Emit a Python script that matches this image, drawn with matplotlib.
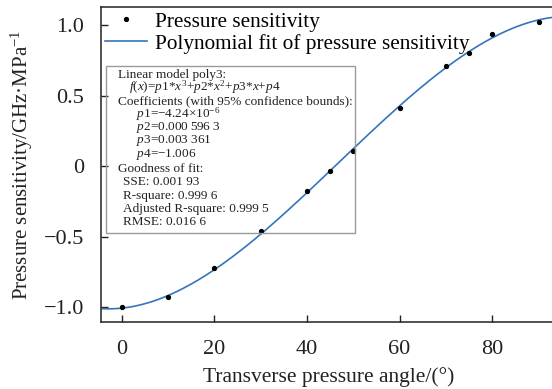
import matplotlib; matplotlib.use("Agg")
import matplotlib.pyplot as plt
from matplotlib.patches import Rectangle
import numpy as np

plt.rcParams['font.family'] = ['Liberation Serif', 'DejaVu Serif']
plt.rcParams['mathtext.fontset'] = 'custom'
plt.rcParams['mathtext.rm'] = 'Liberation Serif'
plt.rcParams['mathtext.it'] = 'Liberation Serif:italic'
plt.rcParams['axes.unicode_minus'] = True

# measured pressure sensitivity
angle = [0, 10, 20, 30, 40, 45, 50, 60, 70, 75, 80, 90]
sens = [-1.00, -0.924, -0.723, -0.459, -0.178, -0.034, 0.110, 0.412, 0.710, 0.80, 0.934, 1.02]
# cubic fit coefficients quoted in the chart
coef = [-4.24e-6, 0.0005963, 0.003361, -1.006]

W, H = 552, 389
fig = plt.figure(figsize=(W/100, H/100), dpi=100)
ax = fig.add_axes([100.7/W, 1-322/H, (W-100.7)/W + 0.01, (322-7)/H])

xf = np.linspace(-5, 95, 300)
ax.plot(xf, np.polyval(coef, xf), color='#3574bd', lw=1.2, label='Polynomial fit of pressure sensitivity', zorder=2)
ax.plot(angle, sens, 'o', color='black', ms=2.8, label='Pressure sensitivity', zorder=3)

ax.set_xlim(-4.5, 94.1)
ax.set_ylim(-1.104, 1.127)
ax.set_xticks([0, 20, 40, 60, 80])
ax.set_yticks([-1.0, -0.5, 0, 0.5, 1.0])
ax.set_yticklabels(['\u22121.0', '\u22120.5', '0', '0.5', '1.0'])
ax.tick_params(direction='in', length=5, width=1, labelsize=16, colors='#222222')
ax.tick_params(axis='y', pad=12)
ax.tick_params(axis='x', pad=13)
for s in ['left', 'bottom', 'top']:
    ax.spines[s].set_color('#222222'); ax.spines[s].set_linewidth(1.1)
ax.spines['right'].set_visible(False)
ax.set_xlabel('Transverse pressure angle/(°)', fontsize=15.5, color='#222222', labelpad=6)
ax.set_ylabel('Pressure sensitivity/GHz·MPa$^{\\mathregular{-1}}$', fontsize=15, color='#222222', labelpad=6)

h, l = ax.get_legend_handles_labels()
ax.legend([h[1], h[0]], [l[1], l[0]], loc='upper left', bbox_to_anchor=(0.01, 0.985),
          frameon=False, fontsize=15.3, handlelength=1.95, handletextpad=0.4,
          labelspacing=0.1, borderaxespad=0, borderpad=0)

def px(x, y):
    return (x / W, 1 - y / H)

x0, y0 = px(106.3, 233)
x1, y1 = px(355, 65.7)
fig.patches.append(Rectangle((x0, y0), x1 - x0, y1 - y0, transform=fig.transFigure,
                             fill=False, ec='#9a9a9a', lw=1.0, zorder=5))

lines = [
    (118, 75, 'Linear model poly3:'),
    (129, 87, r'$f$($x$)=$p$1*$x^3$+$p$2*$x^2$+$p$3*$x$+$p$4'),
    (118, 101.5, 'Coefficients (with 95% confidence bounds):'),
    (136.5, 114, r'$p$1=−4.24×10$^{-6}$'),
    (136.5, 127.5, r'$p$2=0.000 596 3'),
    (136.5, 141, r'$p$3=0.003 361'),
    (136.5, 154.5, r'$p$4=−1.006'),
    (118, 168.5, 'Goodness of fit:'),
    (123, 182, 'SSE: 0.001 93'),
    (123, 195.5, 'R-square: 0.999 6'),
    (123, 209, 'Adjusted R-square: 0.999 5'),
    (123, 222, 'RMSE: 0.016 6'),
]
for x, y, t in lines:
    fx, fy = px(x, y)
    fig.text(fx, fy, t, fontsize=9.5, color='#222222', ha='left', va='center')

fig.savefig('out.png', dpi=100)
